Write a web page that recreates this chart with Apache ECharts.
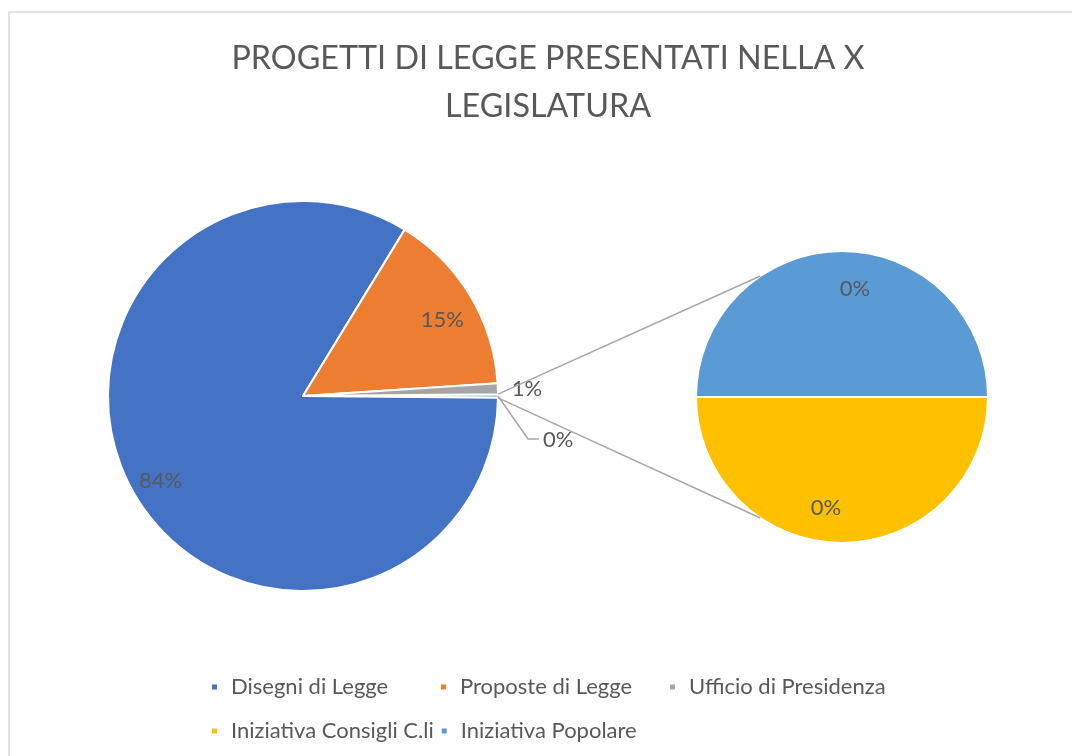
<!DOCTYPE html>
<html><head><meta charset="utf-8">
<script src="https://cdn.jsdelivr.net/npm/echarts@6/dist/echarts.min.js"></script>
<style>html,body{margin:0;padding:0;background:#fff}#c{width:1072px;height:756px}</style>
</head><body><div id="c"></div>
<script>
// ---- data ----
const titleText = 'PROGETTI DI LEGGE PRESENTATI NELLA X\nLEGISLATURA';
const mainNames = ['Disegni di Legge', 'Proposte di Legge', 'Ufficio di Presidenza'];
const mainValues = [560, 102, 6];
const subNames = ['Iniziativa Consigli C.li', 'Iniziativa Popolare'];
const subValues = [1, 1];
const otherName = 'Altro';
const legendOrder = ['Disegni di Legge', 'Proposte di Legge', 'Ufficio di Presidenza', 'Iniziativa Consigli C.li', 'Iniziativa Popolare'];

// ---- styles / layout ----
const COLORS = {
  'Disegni di Legge': '#4472C4',
  'Proposte di Legge': '#ED7D31',
  'Ufficio di Presidenza': '#A5A5A5',
  'Iniziativa Consigli C.li': '#FFC000',
  'Iniziativa Popolare': '#5B9BD5',
  'Altro': '#5B9BD5'
};
const FONT = 'Lato, "Open Sans", sans-serif';
const TEXT_COLOR = '#595959';
const LINE_COLOR = '#A6A6A6';
const MAIN_C = [303, 396], MAIN_R = 195;
const SUB_C = [842, 397], SUB_R = 146;
const CONNECT_DEG = 124;
const OTHER_LABEL_SHIFT = [8, 44];      // moved data label of the "other" slice
const LEADER_BEND = [30, 43];           // leader line bend, relative to slice edge
const LEADER_END = [41, 43];            // leader line end, relative to slice edge

const otherValue = subValues.reduce((a, b) => a + b, 0);
const total = mainValues.reduce((a, b) => a + b, 0) + otherValue;
const otherDeg = otherValue / total * 360;
const pct = v => Math.round(v / total * 100) + '%';
const fmt = p => pct(p.value);

const labelStyle = { color: TEXT_COLOR, fontFamily: FONT, fontSize: 22, formatter: fmt };

function mainData() {
  const arr = [{ name: otherName, value: otherValue, itemStyle: { color: COLORS[otherName] } }];
  mainNames.forEach((n, i) => arr.push({ name: n, value: mainValues[i], itemStyle: { color: COLORS[n] } }));
  return arr;
}

const mainShapes = mainData().map(d => {
  const o = Object.assign({}, d);
  if (d.name === otherName) {
    o.label = { show: true, position: 'outside' };
    o.labelLine = { show: false, length: 20, length2: 12 };
  } else if (d.name === 'Ufficio di Presidenza') {
    o.label = { show: true, position: 'outside' };
    o.labelLine = { show: false, length: 4, length2: 5 };
  } else {
    o.label = { show: false };
  }
  return o;
});

const mainOffsets = { 'Disegni di Legge': [0, 6], 'Proposte di Legge': [0, 8] };
const mainLabelRing = mainData().map(d => ({
  name: d.name, value: d.value,
  itemStyle: { color: 'rgba(0,0,0,0)', borderWidth: 0 },
  label: { show: !!mainOffsets[d.name], offset: mainOffsets[d.name] || [0, 0] }
}));

const subShapes = subNames.map((n, i) => ({ name: n, value: subValues[i], itemStyle: { color: COLORS[n] } }));
const subOffsets = { 'Iniziativa Consigli C.li': [-16, 0], 'Iniziativa Popolare': [13, 3] };
const subLabelRing = subNames.map((n, i) => ({
  name: n, value: subValues[i],
  itemStyle: { color: 'rgba(0,0,0,0)', borderWidth: 0 },
  label: { offset: subOffsets[n] }
}));

// connector lines from the "other" slice to the secondary pie
const rad = d => d * Math.PI / 180;
const a0 = rad(otherDeg / 2);
const p1 = [MAIN_C[0] + MAIN_R * Math.cos(a0), MAIN_C[1] - MAIN_R * Math.sin(a0)];
const p2 = [MAIN_C[0] + MAIN_R * Math.cos(-a0), MAIN_C[1] - MAIN_R * Math.sin(-a0)];
const q1 = [SUB_C[0] + SUB_R * Math.cos(rad(CONNECT_DEG)), SUB_C[1] - SUB_R * Math.sin(rad(CONNECT_DEG))];
const q2 = [SUB_C[0] + SUB_R * Math.cos(rad(360 - CONNECT_DEG)), SUB_C[1] - SUB_R * Math.sin(rad(360 - CONNECT_DEG))];
const edge = [MAIN_C[0] + MAIN_R, MAIN_C[1]];
const leader = [edge, [edge[0] + LEADER_BEND[0], edge[1] + LEADER_BEND[1]], [edge[0] + LEADER_END[0], edge[1] + LEADER_END[1]]];

const chart = echarts.init(document.getElementById('c'), null, { renderer: 'canvas' });
chart.setOption({
  backgroundColor: '#ffffff',
  animation: false,
  title: {
    text: titleText, left: 548, top: 35, textAlign: 'center', padding: 0,
    textStyle: { fontFamily: FONT, fontWeight: 'normal', fontSize: 32.3, color: TEXT_COLOR, lineHeight: 48 }
  },
  legend: {
    left: 210, top: 668, width: 720, padding: 0,
    itemWidth: 7, itemHeight: 7, itemGap: 6, icon: 'rect',
    selectedMode: false,
    textStyle: { fontFamily: FONT, fontSize: 22, color: TEXT_COLOR, width: 202, lineHeight: 38, padding: [0, 0, 0, 8] },
    data: legendOrder.map(n => ({ name: n, itemStyle: { color: COLORS[n] } }))
  },
  graphic: [
    { type: 'rect', z: -10, shape: { x: 9, y: 12, width: 1200, height: 900 }, style: { fill: 'none', stroke: '#D9D9D9', lineWidth: 1.5 } },
    { type: 'line', z: 10, shape: { x1: p1[0], y1: p1[1], x2: q1[0], y2: q1[1] }, style: { stroke: LINE_COLOR, lineWidth: 1.5 } },
    { type: 'line', z: 10, shape: { x1: p2[0], y1: p2[1], x2: q2[0], y2: q2[1] }, style: { stroke: LINE_COLOR, lineWidth: 1.5 } },
    { type: 'polyline', z: 10, shape: { points: leader }, style: { stroke: LINE_COLOR, lineWidth: 1.5, fill: 'none' } }
  ],
  series: [
    {
      type: 'pie', name: 'main', center: MAIN_C, radius: [0, MAIN_R],
      startAngle: otherDeg / 2, clockwise: true, avoidLabelOverlap: false,
      itemStyle: { borderColor: '#ffffff', borderWidth: 2 },
      label: Object.assign({ distanceToLabelLine: 5 }, labelStyle),
      labelLayout: p => (p.dataIndex === 0 ? { dx: OTHER_LABEL_SHIFT[0], dy: OTHER_LABEL_SHIFT[1] } : {}),
      emphasis: { disabled: true }, silent: true,
      data: mainShapes
    },
    {
      type: 'pie', name: 'mainLabels', center: MAIN_C, radius: [MAIN_R * 0.64, MAIN_R],
      startAngle: otherDeg / 2, clockwise: true, avoidLabelOverlap: false,
      label: Object.assign({ position: 'inside' }, labelStyle),
      labelLine: { show: false },
      emphasis: { disabled: true }, silent: true,
      data: mainLabelRing
    },
    {
      type: 'pie', name: 'sub', center: SUB_C, radius: [0, SUB_R],
      startAngle: 0, clockwise: true, avoidLabelOverlap: false,
      itemStyle: { borderColor: '#ffffff', borderWidth: 2 },
      label: { show: false }, labelLine: { show: false },
      emphasis: { disabled: true }, silent: true,
      data: subShapes
    },
    {
      type: 'pie', name: 'subLabels', center: SUB_C, radius: [SUB_R * 0.48, SUB_R],
      startAngle: 0, clockwise: true, avoidLabelOverlap: false,
      label: Object.assign({ position: 'inside' }, labelStyle),
      labelLine: { show: false },
      emphasis: { disabled: true }, silent: true,
      data: subLabelRing
    }
  ]
});
</script>
</body></html>
